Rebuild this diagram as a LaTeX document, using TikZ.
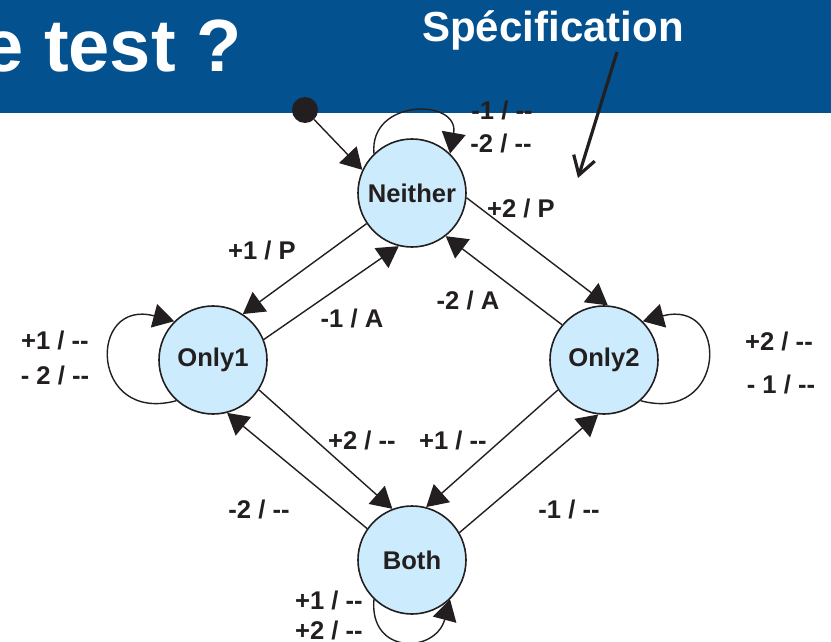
\documentclass[tikz,border=0pt]{standalone}
\usepackage{fontspec}
\setmainfont{Liberation Sans}
\usepackage{xcolor}
\usepackage{tikz}
\usetikzlibrary{arrows.meta}
\definecolor{slideblue}{HTML}{04518F}
\definecolor{statefill}{HTML}{CCEBFC}
\definecolor{inkdark}{HTML}{231F20}
\newcommand{\noout}{-\kern0pt-}

\begin{document}
\begin{tikzpicture}[x=0.5pt,y=-0.5pt,
  state/.style={circle,draw=inkdark,line width=0.8pt,fill=statefill,
    minimum size=54pt,inner sep=0pt,
    font=\fontsize{12.8}{15}\selectfont\bfseries,text=inkdark},
  lbl/.style={inner sep=0pt,font=\fontsize{12.8}{15}\selectfont\bfseries,text=inkdark},
  arr/.style={-{Triangle[length=10.5pt,width=12pt]},line width=0.7pt,draw=inkdark},
  specarr/.style={-{Straight Barb[length=9pt,width=11pt]},line width=1.6pt,draw=inkdark}]

  \useasboundingbox (0,0) rectangle (831,642);
  \fill[slideblue] (0,0) rectangle (831,113);
  \node[anchor=base east,inner sep=0pt,text=white,font=\fontsize{37}{40}\selectfont\bfseries] (title) at (242,72) {e test ?};
  \node[anchor=base,inner sep=0pt,text=white,font=\fontsize{21}{24}\selectfont\bfseries] (spec) at (553,42) {Spécification};
  \coordinate (specfoot) at (617,52);
  \coordinate (spectip) at (578,178);
  \draw[specarr] (specfoot) -- (spectip);

  \node[state] (Neither) at (412,193) {Neither};
  \node[state] (Only1) at (213,360) {Only1};
  \node[state] (Only2) at (604,360) {Only2};
  \node[state] (Both) at (412,560) {Both};
  \node[circle,fill=inkdark,minimum size=13pt,inner sep=0pt] (init) at (305,110) {};

  \draw[arr] (init) -- (Neither.155);
  \draw[arr] (Neither.214) -- (Only1.57);
  \draw[arr] (Only1.22) -- (Neither.256);
  \draw[arr] (Neither.355) -- (Only2.86);
  \draw[arr] (Only2.140) -- (Neither.308);
  \draw[arr] (Only1.327) -- (Both.111);
  \draw[arr] (Both.145) -- (Only1.285);
  \draw[arr] (Only2.213) -- (Both.75);
  \draw[arr] (Both.30) -- (Only2.264);

  \draw[arr] (Neither.134) .. controls +(95:28pt) and +(80:28pt) .. (Neither.46);
  \draw[arr] (Only1.228) .. controls +(195:45pt) and +(165:45pt) .. (Only1.135);
  \draw[arr] (Only2.312) .. controls +(-15:45pt) and +(15:45pt) .. (Only2.45);
  \draw[arr] (Both.226) .. controls +(265:28pt) and +(255:28pt) .. (Both.314);

  \node[lbl] (lNeitherA) at (502,110) {-1 / \noout};
  \node[lbl] (lNeitherB) at (501,143) {-2 / \noout};
  \node[lbl] (lNeitherOnly2) at (521,208) {+2 / P};
  \node[lbl] (lNeitherOnly1) at (262,250) {+1 / P};
  \node[lbl] (lOnly1Neither) at (352,318) {-1 / A};
  \node[lbl] (lOnly2Neither) at (468,300) {-2 / A};
  \node[lbl] (lOnly1A) at (55,340) {+1 / \noout};
  \node[lbl] (lOnly1B) at (55,375) {- 2 / \noout};
  \node[lbl] (lOnly2A) at (779,341) {+2 / \noout};
  \node[lbl] (lOnly2B) at (781,384) {- 1 / \noout};
  \node[lbl] (lOnly1Both) at (362,440) {+2 / \noout};
  \node[lbl] (lOnly2Both) at (453,440) {+1 / \noout};
  \node[lbl] (lBothOnly1) at (259,509) {-2 / \noout};
  \node[lbl] (lBothOnly2) at (569,509) {-1 / \noout};
  \node[lbl] (lBothA) at (329,600) {+1 / \noout};
  \node[lbl] (lBothB) at (329,630) {+2 / \noout};
\end{tikzpicture}
\end{document}
